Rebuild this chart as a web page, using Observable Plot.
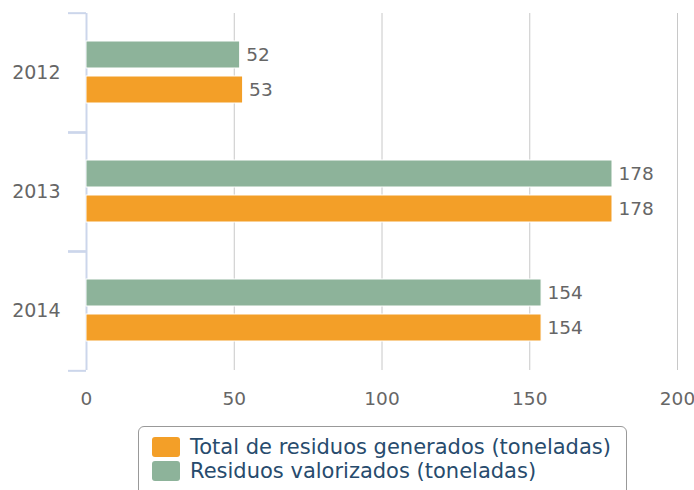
<!DOCTYPE html>
<html>
<head>
<meta charset="utf-8">
<script src="https://cdn.jsdelivr.net/npm/d3@7"></script>
<script src="https://cdn.jsdelivr.net/npm/@observablehq/plot@0.6"></script>
<style>
  body { margin: 0; background: #fff; font-family: "DejaVu Sans", sans-serif; }
  #chart svg { display: block; }
  #legend {
    margin-left: 138px; margin-top: 10px; width: 489px; height: 74px;
    border: 1px solid #999; border-radius: 6px; box-sizing: border-box;
    padding: 8px 0 0 13px;
  }
  .item { display: flex; align-items: center; height: 24px; }
  .sw { width: 28px; height: 20px; border-radius: 3px; margin-right: 10px; flex: none; }
  .lbl { font-size: 21px; color: #274b6d; white-space: nowrap; line-height: 24px; }
</style>
</head>
<body>
<div id="chart"></div>
<div id="legend"></div>
<script>
const years = ["2012", "2013", "2014"];
const seriesNames = ["Residuos valorizados (toneladas)", "Total de residuos generados (toneladas)"];
const valorizados = [52, 178, 154];
const totalGenerados = [53, 178, 154];
const xTicks = [0, 50, 100, 150, 200];
const legendOrder = ["Total de residuos generados (toneladas)", "Residuos valorizados (toneladas)"];
const colors = {
  "Residuos valorizados (toneladas)": "#8db39a",
  "Total de residuos generados (toneladas)": "#f39f28"
};

const rows = [];
years.forEach((y, i) => {
  rows.push({year: y, serie: seriesNames[0], value: valorizados[i]});
  rows.push({year: y, serie: seriesNames[1], value: totalGenerados[i]});
});

const H = 416;
const mTop = 12, mBottom = H - 371;
const half = (H - mTop - mBottom) / years.length / 2;
const axisColor = "#ccd6eb";

const chart = Plot.plot({
  width: 694,
  height: H,
  marginLeft: 86,
  marginRight: 17,
  marginTop: mTop,
  marginBottom: mBottom,
  style: {fontFamily: "DejaVu Sans", fontSize: "18px", color: "#666", background: "#fff"},
  x: {domain: [0, 200], axis: null},
  y: {domain: seriesNames, paddingInner: 0.222, paddingOuter: 0.768, axis: null},
  fy: {domain: years, padding: 0, axis: null},
  color: {domain: seriesNames, range: seriesNames.map(s => colors[s])},
  marks: [
    Plot.gridX(xTicks.filter(t => t > 0), {stroke: "#c8c8c8", strokeOpacity: 1, strokeWidth: 1}),
    Plot.ruleX([0], {stroke: axisColor, strokeWidth: 2}),
    Plot.barX(rows, {fy: "year", y: "serie", x: "value", fill: "serie", stroke: "#fff", strokeWidth: 1}),
    Plot.text(rows, {fy: "year", y: "serie", x: "value", text: d => String(d.value), dx: 6,
      textAnchor: "start", fill: "#666", fontSize: 18.5}),
    Plot.axisX({ticks: xTicks, tickSize: 0, tickPadding: 21, fill: "#666", fontSize: 18.5, label: null}),
    Plot.axisFy({anchor: "left", tickSize: 0, tickPadding: 26, fill: "#666", fontSize: 19, label: null}),
    Plot.axisFy({anchor: "left", text: null, label: null, tickSize: 18, dy: -half, stroke: axisColor, strokeWidth: 2, strokeOpacity: 1}),
    Plot.axisFy({anchor: "left", text: null, label: null, tickSize: 18, dy: half, stroke: axisColor, strokeWidth: 2, strokeOpacity: 1})
  ]
});
document.getElementById("chart").appendChild(chart);

const legend = document.getElementById("legend");
legendOrder.forEach(s => {
  const item = document.createElement("div");
  item.className = "item";
  const sw = document.createElement("div");
  sw.className = "sw";
  sw.style.background = colors[s];
  const lbl = document.createElement("span");
  lbl.className = "lbl";
  lbl.textContent = s;
  item.appendChild(sw);
  item.appendChild(lbl);
  legend.appendChild(item);
});
</script>
</body>
</html>
